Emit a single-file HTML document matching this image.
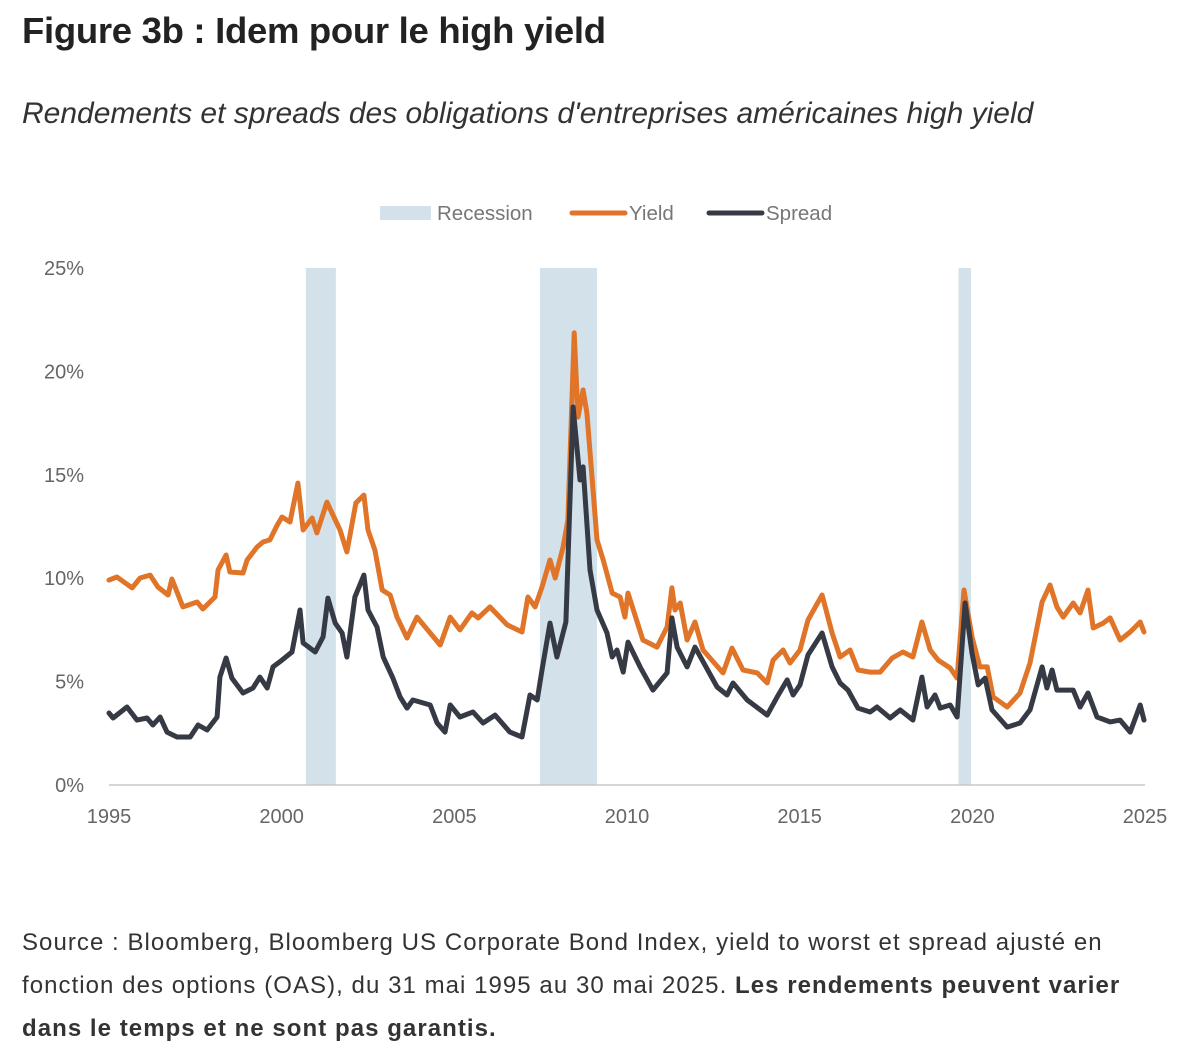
<!DOCTYPE html>
<html><head><meta charset="utf-8">
<style>
body{margin:0;background:#fff;width:1184px;height:1064px;overflow:hidden;font-family:"Liberation Sans",sans-serif;position:relative}
#title{position:absolute;left:22px;top:10px;font-size:36.5px;font-weight:bold;color:#222;letter-spacing:-0.3px;white-space:nowrap}
#subtitle{position:absolute;left:22px;top:97px;font-size:30px;font-style:italic;color:#333;white-space:nowrap}
#source{position:absolute;left:22px;top:921px;font-size:24px;letter-spacing:1.05px;line-height:43px;color:#333;white-space:nowrap}
svg{position:absolute;left:0;top:0}
</style></head><body>
<div id="title">Figure 3b : Idem pour le high yield</div>
<div id="subtitle">Rendements et spreads des obligations d'entreprises américaines high yield</div>
<svg id="chart" width="1184" height="900"></svg>
<div id="source">Source : Bloomberg, Bloomberg US Corporate Bond Index, yield to worst et spread ajusté en<br>fonction des options (OAS), du 31 mai 1995 au 30 mai 2025. <b>Les rendements peuvent varier</b><br><b>dans le temps et ne sont pas garantis.</b></div>
<script>
const yTicks=[0,5,10,15,20,25];
const xTicks=[1995,2000,2005,2010,2015,2020,2025];
const recessions=[[2000.7,2001.57],[2007.48,2009.13],[2019.6,2019.96]];
const yieldDates=[1995.0,1995.23,1995.67,1995.9,1996.19,1996.42,1996.71,1996.82,1997.14,1997.55,1997.72,1998.07,1998.16,1998.39,1998.5,1998.88,1999.0,1999.29,1999.46,1999.66,1999.87,2000.01,2000.24,2000.47,2000.62,2000.88,2001.02,2001.31,2001.69,2001.89,2002.15,2002.38,2002.5,2002.7,2002.91,2003.14,2003.34,2003.63,2003.92,2004.59,2004.88,2005.16,2005.51,2005.69,2006.03,2006.53,2006.96,2007.13,2007.34,2007.54,2007.77,2007.92,2008.15,2008.29,2008.47,2008.58,2008.73,2008.84,2009.13,2009.31,2009.57,2009.8,2009.94,2010.03,2010.46,2010.87,2011.16,2011.3,2011.39,2011.54,2011.74,2011.97,2012.2,2012.78,2013.04,2013.36,2013.77,2014.06,2014.23,2014.52,2014.72,2015.01,2015.24,2015.65,2015.94,2016.17,2016.46,2016.69,2017.04,2017.33,2017.68,2017.99,2018.28,2018.54,2018.78,2019.01,2019.36,2019.56,2019.76,2019.99,2020.22,2020.43,2020.6,2021.01,2021.38,2021.67,2022.02,2022.25,2022.45,2022.63,2022.92,2023.12,2023.35,2023.5,2023.79,2023.99,2024.28,2024.57,2024.86,2024.97];
const yieldValues=[9.91,10.06,9.53,10.01,10.15,9.57,9.19,9.96,8.61,8.85,8.51,9.09,10.4,11.12,10.3,10.25,10.88,11.51,11.75,11.85,12.57,12.96,12.72,14.6,12.33,12.91,12.19,13.68,12.33,11.27,13.64,14.02,12.33,11.36,9.43,9.19,8.12,7.11,8.12,6.77,8.12,7.5,8.32,8.08,8.61,7.74,7.4,9.09,8.61,9.57,10.88,10.01,11.51,12.81,21.86,17.79,19.1,17.99,11.85,10.88,9.28,9.09,8.12,9.28,7.01,6.67,7.64,9.53,8.46,8.8,7.01,7.88,6.53,5.42,6.62,5.56,5.42,4.93,6.04,6.53,5.9,6.53,7.98,9.19,7.35,6.19,6.53,5.56,5.46,5.46,6.14,6.43,6.19,7.88,6.53,6.04,5.66,5.17,9.43,7.16,5.71,5.71,4.26,3.77,4.45,5.9,8.85,9.67,8.61,8.12,8.8,8.32,9.43,7.59,7.83,8.08,7.01,7.4,7.88,7.4];
const spreadDates=[1995.0,1995.12,1995.52,1995.81,1996.1,1996.27,1996.48,1996.68,1996.97,1997.35,1997.58,1997.84,1998.13,1998.21,1998.39,1998.56,1998.88,1999.17,1999.37,1999.58,1999.75,2000.01,2000.3,2000.53,2000.62,2000.97,2001.2,2001.34,2001.55,2001.75,2001.89,2002.12,2002.38,2002.5,2002.76,2002.94,2003.22,2003.43,2003.63,2003.8,2004.09,2004.3,2004.5,2004.73,2004.88,2005.16,2005.54,2005.83,2006.18,2006.61,2006.96,2007.19,2007.4,2007.54,2007.77,2007.97,2008.23,2008.44,2008.64,2008.73,2008.93,2009.13,2009.42,2009.57,2009.71,2009.89,2010.03,2010.38,2010.75,2011.16,2011.3,2011.45,2011.74,2011.97,2012.61,2012.9,2013.07,2013.48,2014.06,2014.35,2014.64,2014.81,2015.01,2015.24,2015.65,2015.94,2016.17,2016.4,2016.69,2017.04,2017.24,2017.62,2017.91,2018.28,2018.54,2018.69,2018.92,2019.07,2019.36,2019.56,2019.79,2019.99,2020.17,2020.37,2020.57,2021.01,2021.38,2021.67,2022.02,2022.16,2022.31,2022.45,2022.92,2023.12,2023.35,2023.61,2023.99,2024.28,2024.57,2024.86,2024.97];
const spreadValues=[3.48,3.24,3.77,3.14,3.24,2.9,3.29,2.56,2.32,2.32,2.9,2.66,3.29,5.22,6.14,5.17,4.45,4.69,5.22,4.69,5.71,6.04,6.43,8.46,6.87,6.43,7.16,9.04,7.83,7.35,6.19,9.09,10.15,8.46,7.64,6.19,5.17,4.26,3.72,4.11,3.97,3.87,3.0,2.56,3.87,3.29,3.53,3.0,3.38,2.56,2.32,4.35,4.11,5.56,7.83,6.19,7.88,18.28,14.75,15.38,10.4,8.46,7.35,6.19,6.53,5.46,6.91,5.71,4.59,5.42,8.08,6.67,5.71,6.67,4.74,4.35,4.93,4.11,3.38,4.26,5.08,4.35,4.84,6.29,7.35,5.71,4.93,4.59,3.72,3.53,3.77,3.24,3.63,3.14,5.22,3.77,4.35,3.72,3.87,3.29,8.8,6.38,4.84,5.17,3.63,2.8,3.0,3.63,5.71,4.69,5.56,4.59,4.59,3.77,4.45,3.29,3.05,3.14,2.56,3.87,3.14];

const NS='http://www.w3.org/2000/svg';
const svg=document.getElementById('chart');
const X0=109,X1=1145,Y0=785,Y1=268;
const xs=v=>X0+(v-1995)/(2025-1995)*(X1-X0);
const ys=v=>Y0-v/25*(Y0-Y1);
function mk(tag,attrs){const e=document.createElementNS(NS,tag);for(const k in attrs)e.setAttribute(k,attrs[k]);svg.appendChild(e);return e;}

recessions.forEach(r=>{
  const e=mk('rect',{x:xs(r[0]),y:Y1,width:xs(r[1])-xs(r[0]),height:Y0-Y1,fill:'#D3E2EA'});
  
  
});
const ax=mk('line',{x1:X0,x2:X1,y1:Y0,y2:Y0,stroke:'#c8c8c8','stroke-width':1.5});


yTicks.forEach(t=>{
  const e=mk('text',{x:84,y:ys(t)+7,'text-anchor':'end','font-size':20,fill:'#666','font-family':'Liberation Sans, sans-serif'});
  e.textContent=t+'%';
  
  
});
xTicks.forEach(t=>{
  const e=mk('text',{x:xs(t),y:823,'text-anchor':'middle','font-size':20,fill:'#666','font-family':'Liberation Sans, sans-serif'});
  e.textContent=t;
  
  
});
function series(d,v,color,name){
  const pts=d.map((x,i)=>xs(x).toFixed(1)+','+ys(v[i]).toFixed(1)).join(' ');
  const e=mk('polyline',{points:pts,fill:'none',stroke:color,'stroke-width':5,'stroke-linejoin':'round','stroke-linecap':'round'});
  
  
}
series(yieldDates,yieldValues,'#E07428','yield-line');
series(spreadDates,spreadValues,'#363A45','spread-line');

const g1=mk('rect',{x:380,y:206,width:51,height:14,fill:'#D3E2EA'});


const l1=mk('text',{x:437,y:220,'font-size':20.5,fill:'#777','font-family':'Liberation Sans, sans-serif'});l1.textContent='Recession';


const g2=mk('line',{x1:572,x2:625,y1:213,y2:213,stroke:'#E07428','stroke-width':5,'stroke-linecap':'round'});


const l2=mk('text',{x:629,y:220,'font-size':20.5,fill:'#777','font-family':'Liberation Sans, sans-serif'});l2.textContent='Yield';


const g3=mk('line',{x1:709,x2:762,y1:213,y2:213,stroke:'#363A45','stroke-width':5,'stroke-linecap':'round'});


const l3=mk('text',{x:766,y:220,'font-size':20.5,fill:'#777','font-family':'Liberation Sans, sans-serif'});l3.textContent='Spread';


</script>
</body></html>
